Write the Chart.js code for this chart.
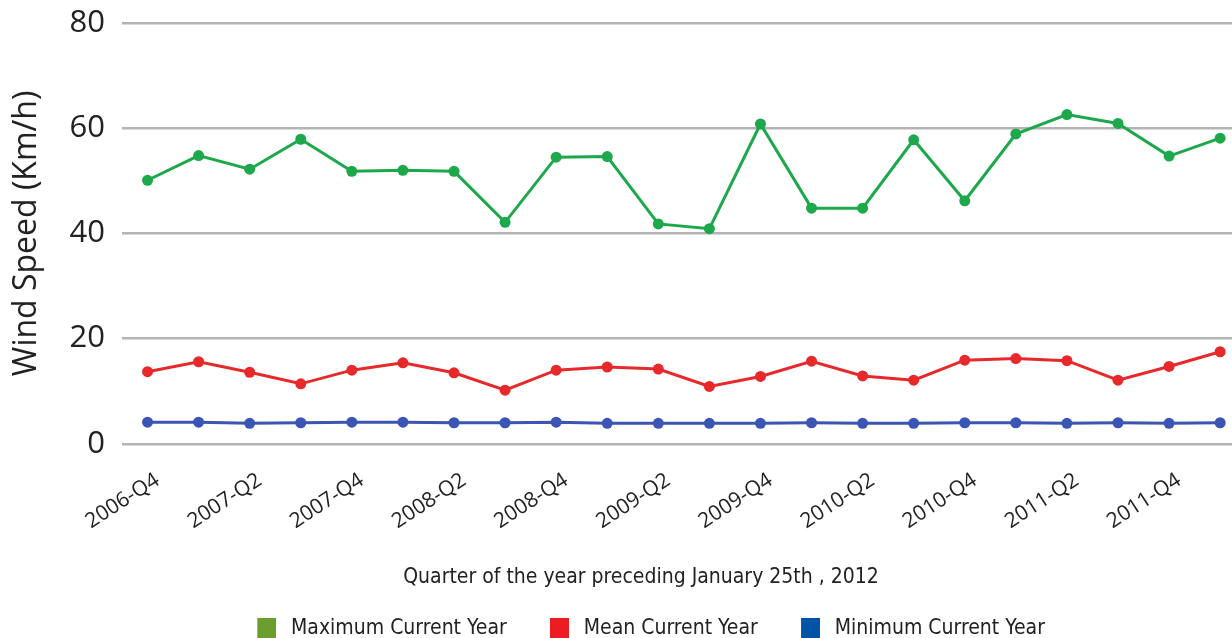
<!DOCTYPE html>
<html>
<head>
<meta charset="utf-8">
<script src="https://cdn.jsdelivr.net/npm/chart.js@4"></script>
<style>
  html, body { margin: 0; padding: 0; background: #fff; overflow: hidden; }
  #wrap { position: relative; width: 1258px; height: 649px; }
</style>
</head>
<body>
<div id="wrap"><canvas id="c"></canvas></div>
<script>
const quarters = ["2006-Q4","2007-Q1","2007-Q2","2007-Q3","2007-Q4","2008-Q1","2008-Q2","2008-Q3","2008-Q4","2009-Q1","2009-Q2","2009-Q3","2009-Q4","2010-Q1","2010-Q2","2010-Q3","2010-Q4","2011-Q1","2011-Q2","2011-Q3","2011-Q4","2012-Q1"];
const maxValues  = [50.1,54.8,52.2,57.9,51.8,52.0,51.8,42.1,54.5,54.6,41.8,40.9,60.8,44.8,44.8,57.8,46.2,58.9,62.6,60.9,54.7,58.1];
const meanValues = [13.7,15.6,13.6,11.4,14.0,15.4,13.5,10.2,14.0,14.6,14.2,10.9,12.8,15.7,12.9,12.1,15.9,16.2,15.8,12.1,14.7,17.5];
const minValues  = [4.1,4.1,3.9,4.0,4.1,4.1,4.0,4.0,4.1,3.9,3.9,3.9,3.9,4.0,3.9,3.9,4.0,4.0,3.9,4.0,3.9,4.0];
const yTicks = [0,20,40,60,80];
const seriesNames = ["Maximum Current Year","Mean Current Year","Minimum Current Year"];
const xTitle = "Quarter of the year preceding January 25th , 2012";
const yTitle = "Wind Speed (Km/h)";

const lineColors = ["#1ea84c","#e8292b","#3b55b4"];
const legendColors = ["#6a9e2f","#ed1c24","#0054a6"];

function hasFont(name) {
  const cx = document.createElement('canvas').getContext('2d');
  const t = 'Quarter of the year preceding';
  cx.font = "40px monospace"; const a = cx.measureText(t).width;
  cx.font = "40px '" + name + "', monospace"; const b = cx.measureText(t).width;
  return Math.abs(a - b) > 1;
}
const narrowOK = hasFont('Liberation Sans Narrow');
const narrowFamily = narrowOK ? "'Liberation Sans Narrow', sans-serif" : "'DejaVu Sans Condensed', sans-serif";
const narrowSize = narrowOK ? 25 : 21;

// legend swatch: a square colour chip, drawn toward the right of its slot
function swatch(color) {
  const cv = document.createElement('canvas');
  cv.width = 35; cv.height = 21;
  const cx = cv.getContext('2d');
  cx.fillStyle = color; cx.fillRect(16, 0, 19, 21);
  return cv;
}

const mk = (i, data) => ({
  label: seriesNames[i],
  data: data,
  borderColor: lineColors[i],
  backgroundColor: legendColors[i],
  pointBackgroundColor: lineColors[i],
  pointBorderColor: lineColors[i],
  pointRadius: 5.5,
  pointBorderWidth: 0,
  borderWidth: 3,
  tension: 0
});

new Chart(document.getElementById('c'), {
  type: 'line',
  data: {
    labels: quarters,
    datasets: [mk(0, maxValues), mk(1, meanValues), mk(2, minValues)]
  },
  options: {
    responsive: true,
    maintainAspectRatio: false,
    animation: false,
    layout: { padding: { top: 23, left: 24, right: 0, bottom: 0 } },
    plugins: {
      tooltip: { enabled: false },
      title: {
        display: true,
        position: 'bottom',
        weight: 500,
        text: xTitle,
        color: '#222',
        font: { family: narrowFamily, size: narrowSize, weight: 'normal', lineHeight: 0.01 },
        padding: { top: 24, bottom: 17 }
      },
      legend: {
        position: 'bottom',
        weight: 1000,
        labels: {
          font: { family: narrowFamily, size: narrowSize },
          color: '#222',
          usePointStyle: true,
          pointStyleWidth: 43.5,
          boxHeight: 21,
          padding: 23,
          generateLabels: (chart) => chart.data.datasets.map((ds, i) => ({
            text: ds.label,
            fillStyle: ds.backgroundColor,
            strokeStyle: ds.backgroundColor,
            pointStyle: swatch(ds.backgroundColor),
            lineWidth: 0,
            fontColor: '#222',
            datasetIndex: i,
            hidden: false
          }))
        }
      }
    },
    scales: {
      x: {
        offset: true,
        grid: { display: false, drawTicks: false },
        border: { display: false },
        ticks: {
          autoSkip: false,
          maxRotation: 33,
          minRotation: 33,
          padding: 24,
          labelOffset: 10,
          color: '#222',
          font: { family: "'Open Sans', sans-serif", size: 21 },
          callback: function(v, i) { return i % 2 === 0 ? quarters[i] : ''; }
        },
        afterFit: (s) => { s.height = 110; }
      },
      y: {
        min: 0,
        max: 80,
        afterBuildTicks: (s) => { s.ticks = yTicks.map(v => ({ value: v })); },
        grid: { color: '#b4b4b4', lineWidth: 2.5, drawTicks: true, tickLength: 17, tickColor: 'rgba(0,0,0,0)' },
        border: { display: false },
        ticks: {
          padding: 0,
          color: '#222',
          font: { family: "'Open Sans', sans-serif", size: 31 }
        },
        title: {
          display: true,
          text: yTitle,
          color: '#222',
          font: { family: "'Open Sans', sans-serif", size: 32, lineHeight: 0.01 },
          padding: { top: 3, bottom: 0 }
        },
        afterFit: (s) => { s.width = 98; }
      }
    }
  }
});
</script>
</body>
</html>
